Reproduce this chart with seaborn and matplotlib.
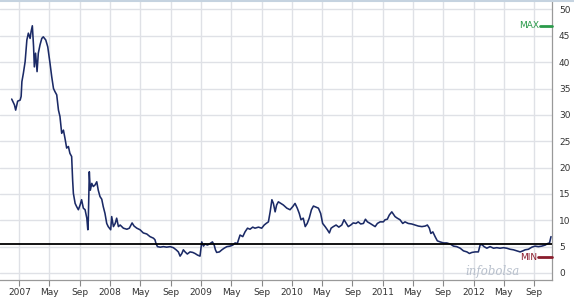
import matplotlib
matplotlib.use("Agg")
import matplotlib.pyplot as plt
import seaborn as sns
import pandas as pd
from matplotlib.lines import Line2D

dates = [
    "2006-12-01", "2006-12-12", "2006-12-17", "2006-12-25", "2007-01-04", "2007-01-08",
    "2007-01-11", "2007-01-17", "2007-01-24", "2007-01-31", "2007-02-06", "2007-02-13",
    "2007-02-17", "2007-02-22", "2007-02-27", "2007-03-02", "2007-03-07", "2007-03-13",
    "2007-03-18", "2007-03-25", "2007-04-01", "2007-04-07", "2007-04-17", "2007-04-25",
    "2007-05-04", "2007-05-11", "2007-05-18", "2007-05-24", "2007-05-31", "2007-06-07",
    "2007-06-13", "2007-06-20", "2007-06-27", "2007-07-03", "2007-07-10", "2007-07-17",
    "2007-07-23", "2007-07-30", "2007-08-03", "2007-08-06", "2007-08-13", "2007-08-19",
    "2007-08-26", "2007-09-02", "2007-09-08", "2007-09-15", "2007-09-22", "2007-09-29",
    "2007-10-03", "2007-10-05", "2007-10-09", "2007-10-13", "2007-10-19", "2007-10-25",
    "2007-11-01", "2007-11-08", "2007-11-14", "2007-11-21", "2007-11-28", "2007-12-04",
    "2007-12-11", "2007-12-18", "2007-12-24", "2008-01-03", "2008-01-07", "2008-01-14",
    "2008-01-21", "2008-01-27", "2008-02-03", "2008-02-10", "2008-02-23", "2008-03-08",
    "2008-03-18", "2008-03-29", "2008-04-06", "2008-04-17", "2008-04-30", "2008-05-13",
    "2008-05-27", "2008-06-09", "2008-06-23", "2008-06-29", "2008-07-03", "2008-07-09",
    "2008-07-20", "2008-08-02", "2008-08-15", "2008-08-29", "2008-09-11", "2008-09-22",
    "2008-10-01", "2008-10-08", "2008-10-15", "2008-10-21", "2008-10-28", "2008-11-06",
    "2008-11-17", "2008-11-28", "2008-12-07", "2008-12-17", "2008-12-27", "2009-01-03",
    "2009-01-10", "2009-01-16", "2009-01-26", "2009-02-06", "2009-02-15", "2009-02-22",
    "2009-02-27", "2009-03-04", "2009-03-15", "2009-03-25", "2009-04-03", "2009-04-14",
    "2009-04-27", "2009-05-08", "2009-05-17", "2009-05-26", "2009-06-06", "2009-06-17",
    "2009-06-26", "2009-07-06", "2009-07-16", "2009-07-27", "2009-08-05", "2009-08-19",
    "2009-09-01", "2009-09-11", "2009-09-19", "2009-09-28", "2009-10-05", "2009-10-12",
    "2009-10-18", "2009-10-25", "2009-10-31", "2009-11-07", "2009-11-17", "2009-11-27",
    "2009-12-11", "2009-12-24", "2010-01-04", "2010-01-13", "2010-01-22", "2010-01-30",
    "2010-02-06", "2010-02-15", "2010-02-23", "2010-03-03", "2010-03-11", "2010-03-20",
    "2010-03-28", "2010-04-07", "2010-04-17", "2010-04-26", "2010-05-04", "2010-05-14",
    "2010-05-23", "2010-05-31", "2010-06-07", "2010-06-16", "2010-06-27", "2010-07-08",
    "2010-07-20", "2010-07-29", "2010-08-06", "2010-08-15", "2010-08-25", "2010-09-04",
    "2010-09-15", "2010-09-24", "2010-10-04", "2010-10-15", "2010-10-23", "2010-10-31",
    "2010-11-11", "2010-11-21", "2010-12-01", "2010-12-10", "2010-12-21", "2011-01-03",
    "2011-01-10", "2011-01-19", "2011-01-27", "2011-02-06", "2011-02-12", "2011-02-19",
    "2011-02-28", "2011-03-11", "2011-03-22", "2011-03-31", "2011-04-13", "2011-04-27",
    "2011-05-11", "2011-05-24", "2011-06-07", "2011-06-20", "2011-06-29", "2011-07-07",
    "2011-07-13", "2011-07-21", "2011-07-30", "2011-08-08", "2011-08-19", "2011-09-02",
    "2011-09-15", "2011-09-29", "2011-10-12", "2011-10-25", "2011-11-08", "2011-11-21",
    "2011-12-05", "2011-12-15", "2011-12-25", "2012-01-07", "2012-01-20", "2012-01-27",
    "2012-02-03", "2012-02-12", "2012-02-23", "2012-03-07", "2012-03-21", "2012-04-03",
    "2012-04-16", "2012-04-30", "2012-05-13", "2012-05-27", "2012-06-09", "2012-06-23",
    "2012-07-06", "2012-07-17", "2012-07-26", "2012-08-08", "2012-08-22", "2012-09-04",
    "2012-09-17", "2012-10-01", "2012-10-15", "2012-10-25", "2012-11-01", "2012-11-07",
]
prices = [
    33.0, 31.9, 30.9, 32.6, 32.8, 33.5,
    36.3, 37.9, 40.1, 44.2, 45.5, 44.5,
    45.8, 46.9, 42.9, 39.1, 41.7, 38.2,
    41.7, 43.3, 44.5, 44.8, 44.2, 42.9,
    39.8, 37.2, 35.0, 34.4, 33.8, 30.9,
    29.7, 26.5, 27.1, 25.6, 23.7, 24.0,
    22.7, 22.1, 17.6, 15.1, 13.2, 12.6,
    12.0, 12.9, 13.9, 12.3, 12.0, 10.4,
    8.2, 10.1, 19.2, 15.7, 17.0, 16.4,
    16.7, 17.3, 15.7, 14.5, 14.0, 12.6,
    11.3, 9.4, 8.8, 8.2, 10.7, 8.8,
    9.4, 10.4, 8.8, 9.1, 8.5, 8.3,
    8.5, 9.5, 8.9, 8.5, 8.2, 7.6,
    7.4, 6.9, 6.6, 6.3, 5.6, 5.0,
    4.9, 5.0, 4.9, 5.0, 4.8, 4.4,
    4.0, 3.2, 3.7, 4.4, 4.0, 3.6,
    4.0, 3.9, 3.7, 3.4, 3.2, 5.9,
    5.1, 5.5, 5.3, 5.6, 5.9, 5.3,
    4.4, 3.9, 4.0, 4.4, 4.7, 5.0,
    5.1, 5.3, 5.7, 5.6, 7.2, 6.9,
    7.8, 8.5, 8.3, 8.7, 8.5, 8.7,
    8.5, 9.1, 9.4, 9.7, 11.6, 13.9,
    13.2, 11.6, 12.9, 13.5, 13.2, 12.9,
    12.3, 12.0, 12.6, 13.2, 12.3, 11.3,
    10.1, 10.4, 8.8, 9.4, 10.4, 12.0,
    12.7, 12.5, 12.3, 11.3, 9.4, 8.8,
    8.2, 7.6, 8.5, 8.8, 9.1, 8.7,
    9.1, 10.1, 9.5, 8.8, 9.1, 9.5,
    9.4, 9.7, 9.3, 9.4, 10.2, 9.7,
    9.4, 9.1, 8.8, 9.4, 9.7, 9.7,
    10.1, 10.2, 11.0, 11.6, 11.2, 10.7,
    10.4, 10.1, 9.4, 9.7, 9.4, 9.3,
    9.1, 8.9, 8.8, 8.9, 9.1, 8.5,
    7.5, 7.8, 6.9, 6.1, 5.9, 5.7,
    5.7, 5.5, 5.1, 5.0, 4.7, 4.2,
    4.0, 3.7, 3.9, 4.0, 4.0, 5.3,
    5.4, 5.0, 4.7, 5.0, 4.7, 4.8,
    4.7, 4.8, 4.7, 4.5, 4.4, 4.2,
    4.0, 4.2, 4.4, 4.5, 4.9, 5.1,
    5.0, 5.1, 5.3, 5.6, 5.7, 6.9,
]
ref_level = 5.45
max_value = 46.9
min_value = 2.98
tick_dates = ["2007-01-01", "2007-05-01", "2007-09-01", "2008-01-01", "2008-05-01", "2008-09-01",
              "2009-01-01", "2009-05-01", "2009-09-01", "2010-01-01", "2010-05-01", "2010-09-01",
              "2011-01-01", "2011-05-01", "2011-09-01", "2012-01-01", "2012-05-01", "2012-09-01"]
tick_labels = ["2007", "May", "Sep", "2008", "May", "Sep", "2009", "May", "Sep",
               "2010", "May", "Sep", "2011", "May", "Sep", "2012", "May", "Sep"]
y_ticks = [0, 5, 10, 15, 20, 25, 30, 35, 40, 45, 50]

df = pd.DataFrame({"date": pd.to_datetime(dates), "price": prices})

sns.set_theme(style="white")
plt.rcParams["font.family"] = ["DejaVu Sans"]

fig = plt.figure(figsize=(5.74, 2.98), dpi=100)
ax = fig.add_axes([0.0, 1 - 280 / 298, 552 / 574, 279 / 298])

sns.lineplot(data=df, x="date", y="price", ax=ax, color="#1b2a66", linewidth=1.15, zorder=3)
ax.axhline(ref_level, color="black", linewidth=1.3, zorder=4)

ax.set_xlim(pd.Timestamp("2006-10-15"), pd.Timestamp("2012-11-11"))
ax.set_ylim(-1.33, 51.6)

ax.set_xticks(pd.to_datetime(tick_dates))
ax.set_xticklabels(tick_labels)
ax.set_yticks(y_ticks)
ax.yaxis.tick_right()
ax.set_xlabel("")
ax.set_ylabel("")
ax.grid(True, color="#dfe1e6", linewidth=1.0, zorder=0)
ax.tick_params(axis="x", direction="out", length=4, width=0.8, color="#888888",
               labelsize=6.5, labelcolor="#333333", pad=2, bottom=True)
ax.tick_params(axis="y", length=0, labelsize=6.5, labelcolor="#333333", pad=5, right=False)

ax.spines["left"].set_visible(False)
ax.spines["top"].set_visible(False)
ax.spines["bottom"].set_color("#999999")
ax.spines["right"].set_color("#999999")
ax.spines["bottom"].set_linewidth(0.9)
ax.spines["right"].set_linewidth(0.9)

# light top border across the whole image
fig.add_artist(Line2D([0, 1], [0.997, 0.997], transform=fig.transFigure, color="#c5d3e0", linewidth=1.5))

trans = ax.get_yaxis_transform()
ax.plot([0.978, 1.0], [max_value, max_value], transform=trans, color="#2a9a4a", linewidth=2, zorder=5, clip_on=False)
ax.text(0.976, max_value, "MAX", transform=trans, color="#2a9a4a", fontsize=6.5, ha="right", va="center")
ax.plot([0.975, 1.0], [min_value, min_value], transform=trans, color="#8a1c2c", linewidth=2, zorder=5, clip_on=False)
ax.text(0.973, min_value, "MIN", transform=trans, color="#8a1c2c", fontsize=6.5, ha="right", va="center")

ax.text(0.893, 0.2, "infobolsa", transform=trans, color="#b8c0cc", fontsize=8.5,
        fontstyle="italic", family="DejaVu Serif", ha="center", va="center", zorder=2)

fig.savefig("out.png", dpi=100)
